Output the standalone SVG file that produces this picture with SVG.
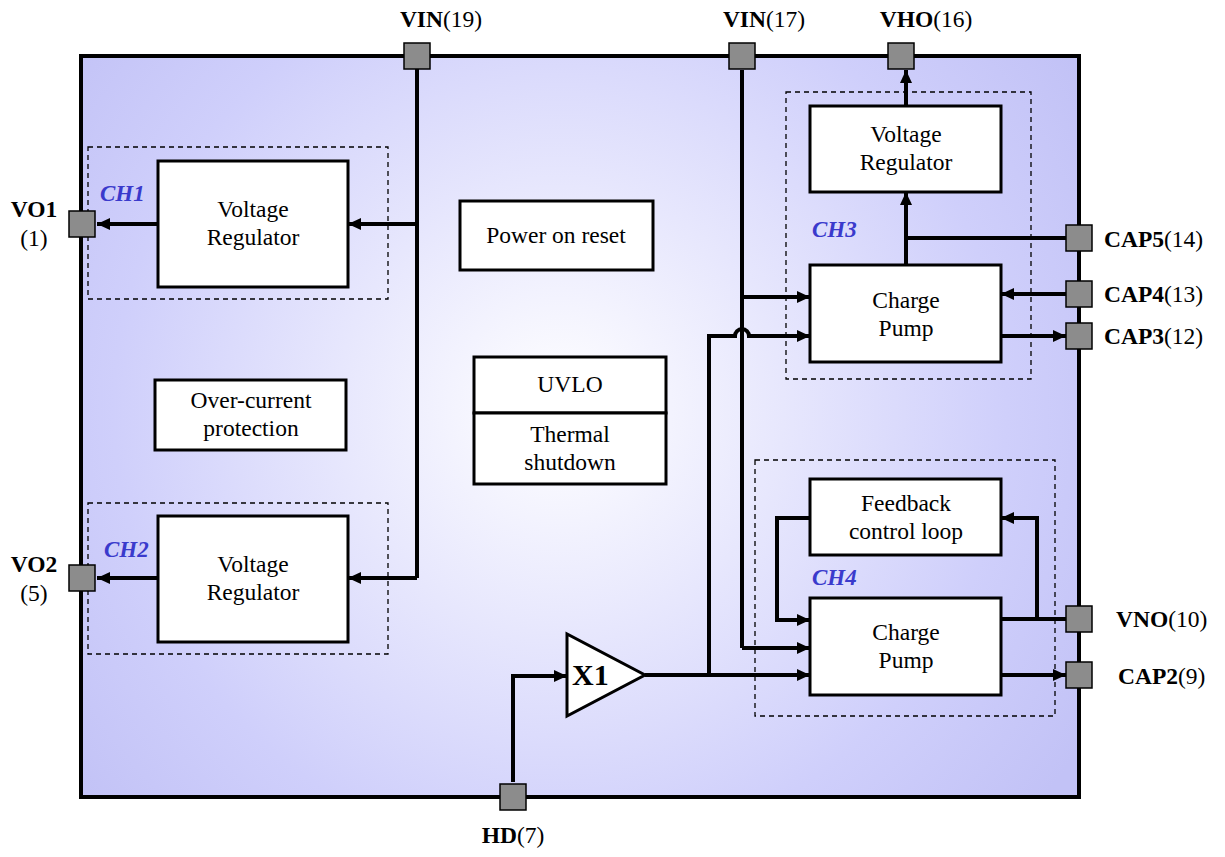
<svg xmlns="http://www.w3.org/2000/svg" width="1225" height="857" viewBox="0 0 1225 857">
<defs>
<radialGradient id="bg" cx="560" cy="410" r="620" gradientUnits="userSpaceOnUse">
<stop offset="0" stop-color="#ffffff"/>
<stop offset="0.72" stop-color="#cfcffb"/>
<stop offset="1" stop-color="#c2c2f6"/>
</radialGradient>
<marker id="arr" markerUnits="userSpaceOnUse" markerWidth="14" markerHeight="12" refX="13" refY="6" orient="auto">
<path d="M0,0 L13,6 L0,12 z" fill="#000"/>
</marker>
<style>
.box{fill:#fff;stroke:#000;stroke-width:3}
.dash{fill:none;stroke:#000;stroke-width:1.3;stroke-dasharray:5,4}
.pin{fill:#8c8c8c;stroke:#000;stroke-width:1.5}
.w{fill:none;stroke:#000;stroke-width:4}
.a{fill:none;stroke:#000;stroke-width:4;marker-end:url(#arr)}
.t{font-family:"Liberation Serif","Times New Roman",serif;font-size:23.5px;fill:#000;text-anchor:middle}
.pl{font-family:"Liberation Serif","Times New Roman",serif;font-size:23.5px;fill:#000}
.b{font-weight:bold}
.ch{font-family:"Liberation Serif","Times New Roman",serif;font-size:23px;font-weight:bold;font-style:italic;fill:#3a3acc}
</style>
</defs>
<rect x="81" y="56" width="998" height="741" fill="url(#bg)" stroke="#000" stroke-width="4"/>

<g id="ch1">
<rect class="dash" x="88" y="147" width="300" height="152"/>
<text class="ch" x="100" y="201">CH1</text>
<rect class="box" x="158" y="161" width="190" height="126"/>
<text class="t" x="253" y="217">Voltage</text>
<text class="t" x="253" y="245">Regulator</text>
</g>
<g id="ch2">
<rect class="dash" x="88" y="503" width="300" height="151"/>
<text class="ch" x="104" y="557">CH2</text>
<rect class="box" x="158" y="516" width="190" height="126"/>
<text class="t" x="253" y="572">Voltage</text>
<text class="t" x="253" y="600">Regulator</text>
</g>
<g id="por">
<rect class="box" x="460" y="201" width="193" height="69" stroke-width="2"/>
<text class="t" x="556" y="243">Power on reset</text>
</g>
<g id="ocp">
<rect class="box" x="155" y="380" width="191" height="70" stroke-width="2"/>
<text class="t" x="251" y="408">Over-current</text>
<text class="t" x="251" y="436">protection</text>
</g>
<g id="uvlo">
<rect class="box" x="474" y="357" width="192" height="56" stroke-width="2"/>
<text class="t" x="570" y="392">UVLO</text>
</g>
<g id="tsd">
<rect class="box" x="474" y="413" width="192" height="71" stroke-width="2"/>
<text class="t" x="570" y="442">Thermal</text>
<text class="t" x="570" y="470">shutdown</text>
</g>
<g id="ch3">
<rect class="dash" x="786" y="92" width="245" height="287"/>
<text class="ch" x="812" y="237">CH3</text>
<rect class="box" x="810" y="106" width="191" height="86"/>
<text class="t" x="906" y="142">Voltage</text>
<text class="t" x="906" y="170">Regulator</text>
<rect class="box" x="810" y="265" width="191" height="97"/>
<text class="t" x="906" y="308">Charge</text>
<text class="t" x="906" y="336">Pump</text>
</g>
<g id="ch4">
<rect class="dash" x="755" y="460" width="300" height="256"/>
<text class="ch" x="812" y="585">CH4</text>
<rect class="box" x="810" y="479" width="191" height="76"/>
<text class="t" x="906" y="511">Feedback</text>
<text class="t" x="906" y="539">control loop</text>
<rect class="box" x="810" y="598" width="191" height="97"/>
<text class="t" x="906" y="640">Charge</text>
<text class="t" x="906" y="668">Pump</text>
</g>
<g id="x1">
<path d="M567,634 L567,716 L645,675 z" fill="#fff" stroke="#000" stroke-width="3"/>
<text class="pl b" x="572" y="685" style="font-size:30px">X1</text>
</g>

<g id="connectors">
<path class="w" d="M417,69 V578"/>
<path class="a" d="M417,224 H348"/>
<path class="a" d="M417,578 H348"/>
<path class="a" d="M158,224 H97"/>
<path class="a" d="M158,578 H97"/>
<path class="w" d="M742,70 V648"/>
<path class="a" d="M742,297 H810"/>
<path class="a" d="M742,648 H810"/>
<path class="a" d="M709,675 V336 H735 A7,7 0 0 1 749,336 H810"/>
<path class="a" d="M645,675 H810"/>
<path class="a" d="M513,782 V676 H567"/>
<path class="a" d="M906,106 V70"/>
<path class="a" d="M906,265 V192"/>
<path class="w" d="M906,238 H1066"/>
<path class="a" d="M1066,294 H1001"/>
<path class="a" d="M1001,336 H1066"/>
<path class="w" d="M1001,619 H1066"/>
<path class="a" d="M1037,619 V518 H1001"/>
<path class="a" d="M810,518 H777 V620 H810"/>
<path class="a" d="M1001,675 H1066"/>
</g>

<g id="pins">
<rect class="pin" x="404" y="43" width="26" height="26"/>
<rect class="pin" x="729" y="43" width="26" height="26"/>
<rect class="pin" x="888" y="43" width="26" height="26"/>
<rect class="pin" x="69" y="211" width="26" height="26"/>
<rect class="pin" x="69" y="565" width="26" height="26"/>
<rect class="pin" x="1066" y="225" width="26" height="26"/>
<rect class="pin" x="1066" y="281" width="26" height="26"/>
<rect class="pin" x="1066" y="323" width="26" height="26"/>
<rect class="pin" x="1066" y="606" width="26" height="26"/>
<rect class="pin" x="1066" y="662" width="26" height="26"/>
<rect class="pin" x="500" y="784" width="26" height="26"/>
</g>

<g id="labels">
<text class="pl" x="441" y="27" text-anchor="middle"><tspan class="b">VIN</tspan>(19)</text>
<text class="pl" x="764" y="27" text-anchor="middle"><tspan class="b">VIN</tspan>(17)</text>
<text class="pl" x="926" y="27" text-anchor="middle"><tspan class="b">VHO</tspan>(16)</text>
<text class="pl b" x="34" y="217" text-anchor="middle">VO1</text>
<text class="pl" x="34" y="246" text-anchor="middle">(1)</text>
<text class="pl b" x="34" y="572" text-anchor="middle">VO2</text>
<text class="pl" x="34" y="601" text-anchor="middle">(5)</text>
<text class="pl" x="1104" y="247"><tspan class="b">CAP5</tspan>(14)</text>
<text class="pl" x="1104" y="302"><tspan class="b">CAP4</tspan>(13)</text>
<text class="pl" x="1104" y="344"><tspan class="b">CAP3</tspan>(12)</text>
<text class="pl" x="1116" y="627"><tspan class="b">VNO</tspan>(10)</text>
<text class="pl" x="1118" y="684"><tspan class="b">CAP2</tspan>(9)</text>
<text class="pl" x="513" y="843" text-anchor="middle"><tspan class="b">HD</tspan>(7)</text>
</g>
</svg>
